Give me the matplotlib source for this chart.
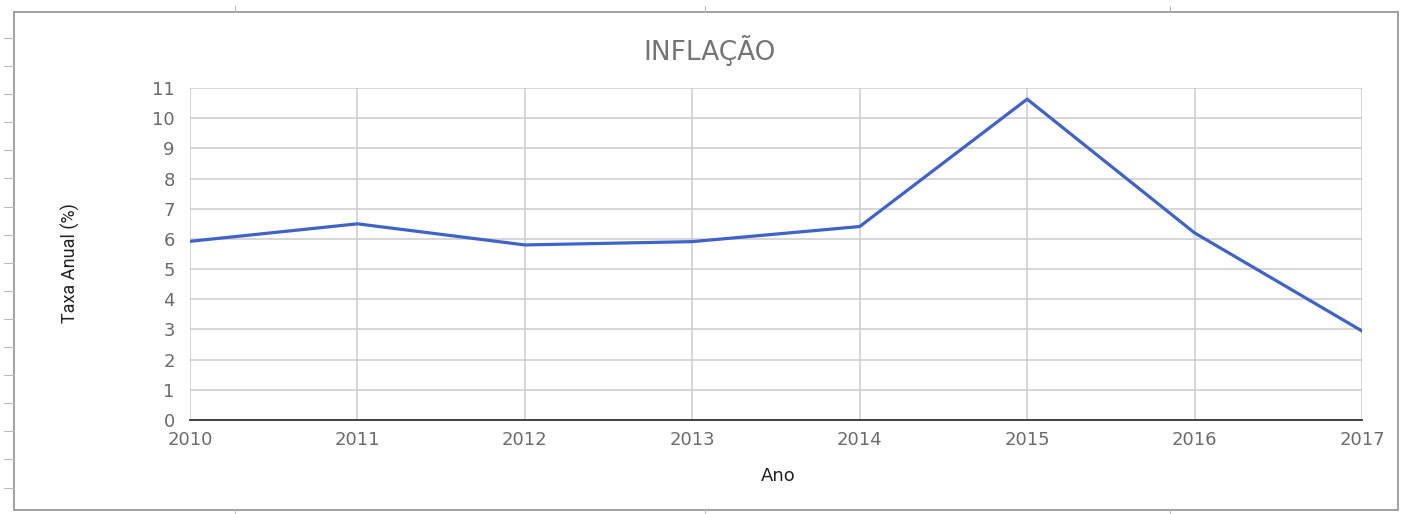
import numpy as np
import matplotlib.pyplot as plt
from matplotlib.lines import Line2D
from matplotlib.patches import Rectangle

# dados
anos = [2010, 2011, 2012, 2013, 2014, 2015, 2016, 2017]
taxa = [5.92, 6.50, 5.80, 5.91, 6.41, 10.63, 6.20, 2.95]
yticks = list(range(0, 12))

plt.rcParams['font.family'] = ['DejaVu Sans']

fig = plt.figure(figsize=(14.03, 5.14), dpi=100)
ax = fig.add_axes([190/1403, 1-420/514, (1362-190)/1403, (420-88)/514])

ax.plot(anos, taxa, color='#3f63c6', lw=2.3, solid_joinstyle='round', zorder=3)

ax.set_xlim(anos[0], anos[-1])
ax.set_ylim(0, 11)
ax.set_xticks(anos)
ax.set_yticks(yticks)
ax.grid(True, color='#cccccc', lw=1.1)
ax.tick_params(length=0, colors='#6b6b6b', labelsize=13)
ax.tick_params(axis='y', pad=11)
ax.tick_params(axis='x', pad=8)
for s in ['left', 'right', 'top']:
    ax.spines[s].set_visible(False)
ax.spines['bottom'].set_color('#333333')
ax.spines['bottom'].set_linewidth(1.3)
ax.spines['bottom'].set_zorder(4)

fig.text(710/1403, 1-51/514, 'INFLAÇÃO', ha='center', va='center',
         fontsize=19, color='#757575')
fig.text(778/1403, 1-476/514, 'Ano', ha='center', va='center',
         fontsize=13, color='#222222')
fig.text(70/1403, 1-263/514, 'Taxa Anual (%)', ha='center', va='center',
         rotation=90, fontsize=13, color='#222222', family='Roboto')

# moldura e marcas da folha de cálculo
fig.patches.append(Rectangle((14/1403, 1-510/514), (1398-14)/1403, (510-12)/514,
                             transform=fig.transFigure, fill=False,
                             edgecolor='#9a9a9a', lw=1.3))
for yy in np.arange(38, 510, 28.1):
    fig.lines.append(Line2D([4/1403, 14/1403], [1-yy/514, 1-yy/514],
                            transform=fig.transFigure, color='#bbbbbb', lw=0.8))
for xx in [235, 705, 1170]:
    fig.lines.append(Line2D([xx/1403, xx/1403], [1-6/514, 1-12/514],
                            transform=fig.transFigure, color='#bbbbbb', lw=0.8))
    fig.lines.append(Line2D([xx/1403, xx/1403], [1-510/514, 1-514/514],
                            transform=fig.transFigure, color='#bbbbbb', lw=0.8))

fig.savefig('out.png', dpi=100, facecolor='white')
